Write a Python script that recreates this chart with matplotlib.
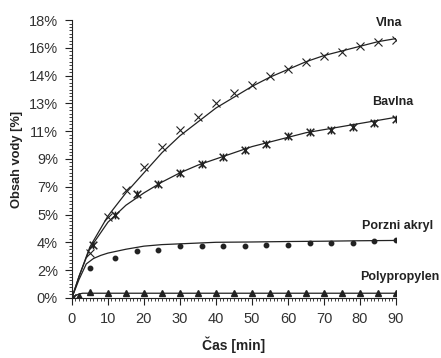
import numpy as np
import matplotlib.pyplot as plt
from matplotlib.path import Path
from matplotlib.ticker import MultipleLocator

plt.rcParams['font.family'] = ['Liberation Sans', 'DejaVu Sans']

# measured points (time in min, water content in %)
vlna_t = [0, 5, 10, 15, 20, 25, 30, 35, 40, 45, 50, 55, 60, 65, 70, 75, 80, 85, 90]
vlna_y = [0, 2.9, 5.25, 7.0, 8.5, 9.8, 10.9, 11.7, 12.6, 13.3, 13.8, 14.4, 14.8,
          15.3, 15.7, 15.9, 16.3, 16.6, 16.7]

bavlna_t = [0, 6, 12, 18, 24, 30, 36, 42, 48, 54, 60, 66, 72, 78, 84, 90]
bavlna_y = [0, 3.4, 5.4, 6.7, 7.4, 8.1, 8.7, 9.1, 9.6, 10.0, 10.5, 10.75, 10.9,
            11.1, 11.3, 11.6]

akryl_t = [0, 5, 12, 18, 24, 30, 36, 42, 48, 54, 60, 66, 72, 78, 84, 90]
akryl_y = [0, 1.95, 2.6, 3.05, 3.1, 3.35, 3.35, 3.35, 3.35, 3.4, 3.4, 3.55, 3.55,
           3.55, 3.7, 3.75]

pp_t = [0, 2, 5, 10, 15, 20, 25, 30, 35, 40, 45, 50, 55, 60, 65, 70, 75, 80, 85, 90]
pp_y = [0, 0.1, 0.35, 0.3, 0.3, 0.3, 0.3, 0.3, 0.3, 0.3, 0.3, 0.3, 0.3, 0.3, 0.3,
        0.3, 0.3, 0.3, 0.3, 0.3]

# fitted trend curves
fit_t = [0, 2, 5, 10, 15, 20, 25, 30, 35, 40, 45, 50, 55, 60, 65, 70, 75, 80, 85, 90]
vlna_fit = [0, 1.4, 3.3, 5.3, 6.8, 8.1, 9.4, 10.5, 11.4, 12.3, 13.0, 13.7, 14.3,
            14.8, 15.3, 15.7, 16.0, 16.3, 16.6, 16.8]
bavlna_fit = [0, 1.4, 3.2, 4.9, 6.0, 6.8, 7.5, 8.1, 8.6, 9.0, 9.4, 9.8, 10.1, 10.4,
              10.7, 10.9, 11.1, 11.3, 11.5, 11.7]
akryl_fit_t = [0, 2, 4, 6, 8, 10, 15, 20, 25, 30, 40, 50, 60, 70, 80, 90]
akryl_fit = [0, 1.2, 2.2, 2.55, 2.75, 2.9, 3.15, 3.35, 3.45, 3.5, 3.6, 3.62, 3.65,
             3.67, 3.7, 3.72]
pp_fit_t = [0, 1, 2, 3, 5, 90]
pp_fit = [0, 0.15, 0.25, 0.3, 0.3, 0.3]

yticks = [0, 1.8, 3.6, 5.4, 7.2, 9.0, 10.8, 12.6, 14.4, 16.2, 18.0]
ytick_labels = ['0%', '2%', '4%', '5%', '7%', '9%', '11%', '13%', '14%', '16%', '18%']
xticks = [0, 10, 20, 30, 40, 50, 60, 70, 80, 90]

c = '#222222'
star = Path([(-1, -1), (1, 1), (-1, 1), (1, -1), (0, -1), (0, 1)],
            [Path.MOVETO, Path.LINETO, Path.MOVETO, Path.LINETO, Path.MOVETO, Path.LINETO])

fig = plt.figure(figsize=(4.41, 3.58), dpi=100)
ax = fig.add_axes([0.163, 0.168, 0.735, 0.776])

ax.plot(fit_t, vlna_fit, color=c, lw=0.9)
ax.plot(fit_t, bavlna_fit, color=c, lw=0.9)
ax.plot(akryl_fit_t, akryl_fit, color=c, lw=0.9)
ax.plot(pp_fit_t, pp_fit, color=c, lw=0.9)

ax.plot(vlna_t, vlna_y, ls='none', marker='x', ms=6, mew=0.8, color=c)
ax.plot(bavlna_t, bavlna_y, ls='none', marker=star, ms=5.5, mew=1.1, color=c)
ax.plot(akryl_t, akryl_y, ls='none', marker='o', ms=3.2, color=c)
ax.plot(pp_t, pp_y, ls='none', marker='^', ms=3.8, color=c)

ax.set_xlim(0, 90)
ax.set_ylim(0, 18)
ax.spines['top'].set_visible(False)
ax.spines['right'].set_visible(False)
ax.spines['left'].set_color(c)
ax.spines['bottom'].set_color(c)
ax.set_xticks(xticks)
ax.set_yticks(yticks)
ax.set_yticklabels(ytick_labels)
ax.xaxis.set_minor_locator(MultipleLocator(1))
ax.yaxis.set_minor_locator(MultipleLocator(0.225))
ax.tick_params(which='major', length=5, width=0.8, color=c, labelsize=10.5,
               labelcolor='#333333', pad=5)
ax.tick_params(which='minor', length=2.5, width=0.6, color=c)

ax.set_xlabel('Čas [min]', fontsize=10, fontweight='bold', color=c, labelpad=8)
ax.set_ylabel('Obsah vody [%]', fontsize=9.3, fontweight='bold', color=c, labelpad=4)

lab = dict(fontsize=9, fontweight='bold', color=c, ha='center', va='center',
           clip_on=False)
ax.text(88.0, 17.8, 'Vlna', **lab)
ax.text(89.1, 12.7, 'Bavlna', **lab)
ax.text(90.5, 4.66, 'Porzni akryl', **lab)
ax.text(91.1, 1.36, 'Polypropylen', **lab)

fig.savefig('out.png', dpi=100)
